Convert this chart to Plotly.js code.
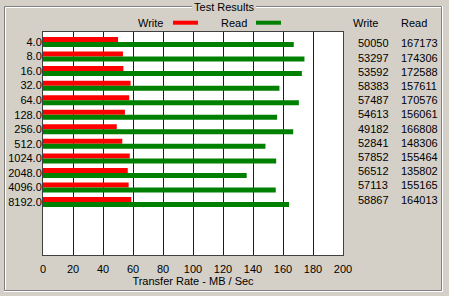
<!DOCTYPE html>
<html>
<head>
<meta charset="utf-8">
<script src="https://cdn.plot.ly/plotly-3.0.1.min.js"></script>
<style>
html,body{margin:0;padding:0;background:#d4d0c8;}
#chart{width:449px;height:296px;}
</style>
</head>
<body>
<div id="chart"></div>
<script>
// ---- data ----
var transferSizes = ["4.0","8.0","16.0","32.0","64.0","128.0","256.0","512.0","1024.0","2048.0","4096.0","8192.0"];
var writeKB = [50050,53297,53592,58383,57487,54613,49182,52841,57852,56512,57113,58867];
var readKB  = [167173,174306,172588,157611,170576,156061,166808,148306,155464,135802,155165,164013];
var xTicks = [0,20,40,60,80,100,120,140,160,180,200];

// ---- layout geometry (pixels) ----
var W = 449, H = 296;
var L = 43, R = 343, T = 32, B = 255;
var pw = R - L, ph = B - T;
function px(x){ return (x - L) / pw; }
function py(y){ return 1 - (y - T) / ph; }

var idx = transferSizes.map(function(_, i){ return i; });
var writeMB = writeKB.map(function(v){ return v / 1000; });
var readMB = readKB.map(function(v){ return v / 1000; });

var FONT = "Liberation Sans, Arial, sans-serif";

var traces = [
  {type:"bar", orientation:"h", name:"Write", y:idx, x:writeMB,
   marker:{color:"#ff0000", line:{width:0}}, hoverinfo:"x"},
  {type:"bar", orientation:"h", name:"Read", y:idx, x:readMB,
   marker:{color:"#008000", line:{width:0}}, hoverinfo:"x"}
];

var annotations = [];
// legend texts
annotations.push({xref:"paper", yref:"paper", x:px(165), y:py(22.7), xanchor:"right", yanchor:"middle",
  text:"Write", showarrow:false, font:{family:FONT, size:11, color:"#000"}});
annotations.push({xref:"paper", yref:"paper", x:px(249), y:py(22.7), xanchor:"right", yanchor:"middle",
  text:"Read", showarrow:false, font:{family:FONT, size:11, color:"#000"}});
// column headers
annotations.push({xref:"paper", yref:"paper", x:px(351), y:py(22.7), xanchor:"left", yanchor:"middle",
  text:"Write", showarrow:false, font:{family:FONT, size:11, color:"#000"}});
annotations.push({xref:"paper", yref:"paper", x:px(399), y:py(22.7), xanchor:"left", yanchor:"middle",
  text:"Read", showarrow:false, font:{family:FONT, size:11, color:"#000"}});
// value columns
for (var i = 0; i < transferSizes.length; i++) {
  var yy = py(43.3 + 14.2 * i);
  annotations.push({xref:"paper", yref:"paper", x:px(356), y:yy, xanchor:"left", yanchor:"middle",
    text:String(writeKB[i]), showarrow:false, font:{family:FONT, size:11, color:"#000"}});
  annotations.push({xref:"paper", yref:"paper", x:px(399), y:yy, xanchor:"left", yanchor:"middle",
    text:String(readKB[i]), showarrow:false, font:{family:FONT, size:11, color:"#000"}});
}

var shapes = [];
function line(x0,y0,x1,y1,color,w){
  shapes.push({type:"line", xref:"paper", yref:"paper", x0:px(x0), y0:py(y0), x1:px(x1), y1:py(y1),
    line:{color:color, width:w||1}, layer:"above"});
}
// group box (etched)
var g = "#808080", wh = "#ffffff";
line(4.5,6.5,4.5,290.5,g); line(5.5,7.5,5.5,290,wh);
line(4.5,6.5,192,6.5,g); line(256,6.5,441.5,6.5,g);
line(5.5,7.5,192,7.5,wh); line(256,7.5,441,7.5,wh);
line(441.5,6.5,441.5,290.5,g); line(442.5,6,442.5,291.5,wh);
line(4.5,290.5,441.5,290.5,g); line(4,291.5,442.5,291.5,wh);
// legend swatches
line(173,22.7,198,22.7,"#ff0000",4);
line(256,22.7,281,22.7,"#008000",4);

var layout = {
  width: W, height: H,
  paper_bgcolor:"#d4d0c8", plot_bgcolor:"#ffffff",
  margin:{l:L, r:W-R, t:T, b:H-B, pad:0},
  showlegend:false,
  barmode:"group", bargap:0.313, bargroupgap:0,
  title:{text:"Test Results", x:224/W, xanchor:"center", y:1-6.8/H, yanchor:"middle",
    font:{family:FONT, size:11, color:"#000"}},
  xaxis:{range:[0,200], tickvals:xTicks, ticktext:xTicks.map(String),
    showgrid:true, gridcolor:"#0000ff", gridwidth:1, zeroline:false,
    showline:true, mirror:true, linecolor:"#404040", linewidth:1,
    ticks:"", ticklabelstandoff:4,
    tickfont:{family:FONT, size:11, color:"#000"},
    title:{text:"Transfer Rate - MB / Sec", standoff:2, font:{family:FONT, size:11, color:"#000"}},
    fixedrange:true},
  yaxis:{range:[14.64,-0.687], tickvals:idx, ticktext:transferSizes,
    showgrid:false, zeroline:false,
    showline:true, mirror:true, linecolor:"#404040", linewidth:1,
    ticks:"", ticklabelstandoff:-2,
    tickfont:{family:FONT, size:11, color:"#000"}, fixedrange:true},
  annotations: annotations,
  shapes: shapes,
  font:{family:FONT, size:11, color:"#000"}
};

Plotly.newPlot("chart", traces, layout, {displayModeBar:false, staticPlot:true});
</script>
</body>
</html>
